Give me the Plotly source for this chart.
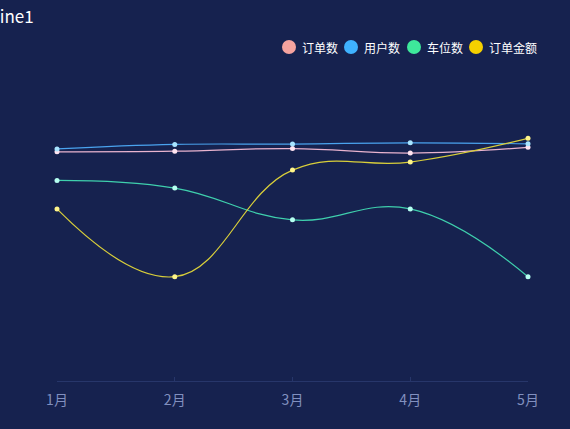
import plotly.graph_objects as go

months = ["1月", "2月", "3月", "4月", "5月"]
orders = [714, 716, 724, 710, 728]
users = [723, 737, 738, 742, 739]
parking = [625, 601, 502, 536, 325]
amount = [536, 325, 657, 682, 756]

series_names = ["订单数", "用户数", "车位数", "订单金额"]
series_values = [orders, users, parking, amount]
legend_colors = ["#f5a39f", "#3fb2ff", "#3ee89b", "#f5d000"]
line_colors = ["#e9b4cf", "#4aa3ee", "#3fd0ad", "#d9cf3a"]
marker_colors = ["#ffe4f0", "#a8e4ff", "#b5fff0", "#fff58a"]

W, H = 570, 429
L, R, T, B = 57, 42, 60, 48
pw = W - L - R
ph = H - T - B


def px_x(x):
    return (x - L) / pw


def px_y(y):
    return (H - B - y) / ph


fig = go.Figure()
for name, vals, lc, mc in zip(series_names, series_values, line_colors, marker_colors):
    fig.add_trace(go.Scatter(
        x=list(range(len(months))), y=vals, mode="lines+markers",
        line=dict(color=lc, width=1.2, shape="spline", smoothing=1.2),
        marker=dict(size=5, color=mc, line=dict(width=0)),
        showlegend=False, cliponaxis=False, name=name,
    ))

# legend built from shapes + annotations (echarts-style round icons)
legend_icon_x = [289, 351, 414, 476]
legend_text_x = [300, 362, 425, 487]
legend_y = 47
shapes = []
annotations = []
for name, c, ix, tx in zip(series_names, legend_colors, legend_icon_x, legend_text_x):
    shapes.append(dict(
        type="circle", xref="paper", yref="paper",
        x0=px_x(ix - 7), x1=px_x(ix + 7), y0=px_y(legend_y + 7), y1=px_y(legend_y - 7),
        fillcolor=c, line=dict(width=0),
    ))
    annotations.append(dict(
        text=name, xref="paper", yref="paper", x=px_x(tx), y=px_y(legend_y),
        xanchor="left", yanchor="middle", showarrow=False,
        font=dict(color="#ffffff", size=12),
    ))

annotations.append(dict(
    text="line1", xref="paper", yref="paper",
    x=px_x(-7), y=px_y(16), xanchor="left", yanchor="middle",
    showarrow=False, font=dict(color="#ffffff", size=17),
))

fig.update_layout(
    width=W, height=H,
    margin=dict(l=L, r=R, t=T, b=B),
    paper_bgcolor="#16224f", plot_bgcolor="#16224f",
    font=dict(family="Noto Sans CJK SC, sans-serif"),
    showlegend=False,
    xaxis=dict(
        tickmode="array", tickvals=list(range(len(months))), ticktext=months,
        range=[0, len(months) - 1], showgrid=False, zeroline=False,
        showline=True, linecolor="#27366a", linewidth=1,
        ticks="inside", ticklen=4, tickcolor="#27366a",
        tickfont=dict(color="#8190bf", size=14), ticklabelstandoff=6,
        fixedrange=True,
    ),
    yaxis=dict(range=[0, 1000], visible=False, fixedrange=True),
    shapes=shapes,
    annotations=annotations,
)

fig.write_html("out.html")
